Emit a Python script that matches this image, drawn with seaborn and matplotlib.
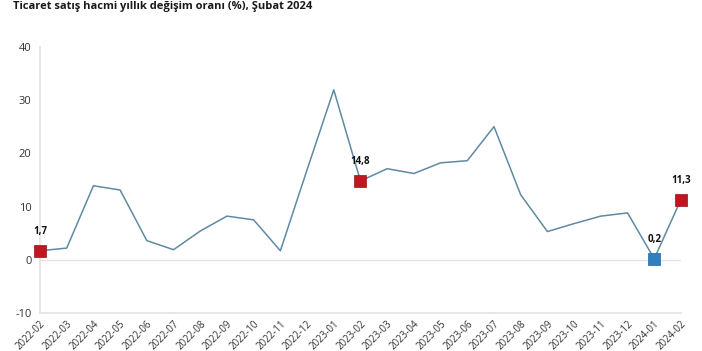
import matplotlib
matplotlib.use("Agg")
import matplotlib.pyplot as plt
import seaborn as sns
import pandas as pd

# Aylar ve yıllık değişim oranları (%)
months = [
    "2022-02", "2022-03", "2022-04", "2022-05", "2022-06", "2022-07",
    "2022-08", "2022-09", "2022-10", "2022-11", "2022-12", "2023-01",
    "2023-02", "2023-03", "2023-04", "2023-05", "2023-06", "2023-07",
    "2023-08", "2023-09", "2023-10", "2023-11", "2023-12", "2024-01",
    "2024-02",
]
values = [
    1.7, 2.2, 13.9, 13.1, 3.6, 1.9,
    5.4, 8.2, 7.5, 1.7, 16.9, 31.9,
    14.8, 17.1, 16.2, 18.2, 18.6, 25.0,
    12.2, 5.3, 6.8, 8.2, 8.8, 0.2,
    11.3,
]
# işaretlenen noktalar
red_points = ["2022-02", "2023-02", "2024-02"]
blue_points = ["2024-01"]
y_ticks = [-10, 0, 10, 20, 30, 40]

df = pd.DataFrame({"ay": months, "deger": values})
df["x"] = range(len(df))

sns.set_style("white")
plt.rcParams["font.family"] = ["Open Sans", "DejaVu Sans"]

fig = plt.figure(figsize=(7.02, 3.51), dpi=100)
ax = fig.add_axes([0.057, 0.108, 0.913, 0.759])

sns.lineplot(data=df, x="x", y="deger", ax=ax, color="#5e8aa3", linewidth=1.1)

red = df[df["ay"].isin(red_points)]
blue = df[df["ay"].isin(blue_points)]
sns.scatterplot(data=red, x="x", y="deger", ax=ax, marker="s", s=75,
                color="#c0161f", edgecolor="#9a1018", linewidth=0.5,
                zorder=5, clip_on=False)
sns.scatterplot(data=blue, x="x", y="deger", ax=ax, marker="s", s=75,
                color="#2f7fc1", edgecolor="#2566a0", linewidth=0.5,
                zorder=5, clip_on=False)

for _, r in pd.concat([red, blue]).iterrows():
    ax.annotate(f"{r['deger']:.1f}".replace(".", ","), (r["x"], r["deger"]),
                xytext=(0, 10), textcoords="offset points", ha="center",
                va="bottom", fontsize=7, fontweight="bold", color="#111111")

ax.axhline(0, color="#e3e3e3", linewidth=1, zorder=0)
ax.set_xlim(0, len(months) - 1)
ax.set_ylim(-10, 40)
ax.set_yticks(y_ticks)
ax.set_yticklabels([str(t) for t in y_ticks], fontsize=8, color="#333333")
ax.set_xticks(df["x"])
ax.set_xticklabels(months, rotation=45, ha="right", rotation_mode="anchor",
                   fontsize=7, color="#333333")
ax.tick_params(axis="both", length=0, pad=6)
ax.tick_params(axis="x", pad=4)
ax.set_xlabel("")
ax.set_ylabel("")

for side in ["top", "right"]:
    ax.spines[side].set_visible(False)
for side in ["left", "bottom"]:
    ax.spines[side].set_color("#e3e3e3")
    ax.spines[side].set_linewidth(1.2)

fig.text(0.018, 0.997, "Ticaret satış hacmi yıllık değişim oranı (%), Şubat 2024",
         fontsize=8, fontweight="bold", color="#1a1a1a", ha="left", va="top")

fig.savefig("out.png", dpi=100)
